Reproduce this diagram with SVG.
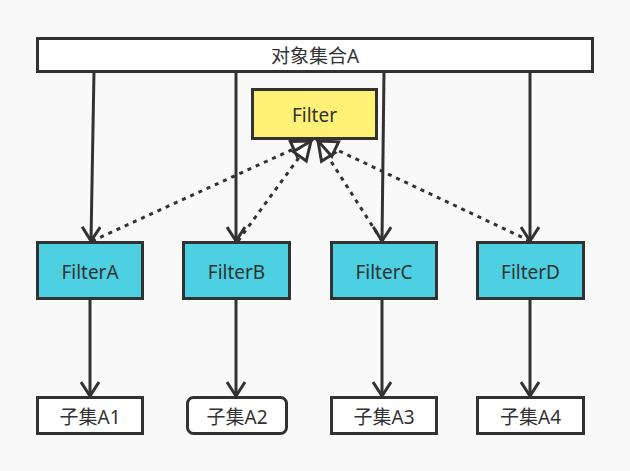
<svg xmlns="http://www.w3.org/2000/svg" width="630" height="471" viewBox="0 0 630 471">
<defs>
<style>
.box{stroke:#323232;stroke-width:3}
.t{font-family:"Noto Sans","Noto Sans CJK SC",sans-serif;font-size:19px;fill:#323232;text-anchor:middle;dominant-baseline:central}
.ln{stroke:#323232;stroke-width:3;fill:none}
.dash{stroke:#323232;stroke-width:3;fill:none;stroke-dasharray:4 5}
</style>
<marker id="open" viewBox="0 0 20 20" refX="17" refY="10" markerWidth="20" markerHeight="20" markerUnits="userSpaceOnUse" orient="auto">
<path d="M3,1 L17,10 L3,19" fill="none" stroke="#323232" stroke-width="3"/>
</marker>
<marker id="hollow" viewBox="0 0 24 22" refX="21" refY="11" markerWidth="24" markerHeight="22" markerUnits="userSpaceOnUse" orient="auto">
<path d="M2,3 L21,11 L2,19 Z" fill="#fff" stroke="#323232" stroke-width="3" stroke-linejoin="miter"/>
</marker>
</defs>
<rect width="630" height="471" fill="#f9f9f9"/>
<g id="connectors">
<line class="ln" x1="94" y1="71" x2="91" y2="241" marker-end="url(#open)"/>
<line class="ln" x1="236" y1="71" x2="236" y2="241" marker-end="url(#open)"/>
<line class="ln" x1="384" y1="71" x2="382" y2="241" marker-end="url(#open)"/>
<line class="ln" x1="530" y1="71" x2="530" y2="241" marker-end="url(#open)"/>
<line class="dash" x1="92" y1="241" x2="311" y2="141" marker-end="url(#hollow)"/>
<line class="dash" x1="238" y1="241" x2="311" y2="141" marker-end="url(#hollow)"/>
<line class="dash" x1="382" y1="241" x2="318" y2="141" marker-end="url(#hollow)"/>
<line class="dash" x1="530" y1="241" x2="318" y2="141" marker-end="url(#hollow)"/>
<line class="ln" x1="90" y1="298" x2="90" y2="396" marker-end="url(#open)"/>
<line class="ln" x1="236" y1="298" x2="236" y2="396" marker-end="url(#open)"/>
<line class="ln" x1="382" y1="298" x2="382" y2="396" marker-end="url(#open)"/>
<line class="ln" x1="530" y1="298" x2="530" y2="396" marker-end="url(#open)"/>
</g>
<g id="setA"><rect class="box" x="37.5" y="38.5" width="555" height="33" fill="#fff"/><text class="t" x="315" y="56">对象集合A</text></g>
<g id="filter"><rect class="box" x="252.5" y="89.5" width="124" height="49" fill="#fff176"/><text class="t" x="314.5" y="115">Filter</text></g>
<g id="filterA"><rect class="box" x="37.5" y="242.5" width="105" height="56" fill="#4dd0e1"/><text class="t" x="90" y="272">FilterA</text></g>
<g id="filterB"><rect class="box" x="183.5" y="242.5" width="106" height="56" fill="#4dd0e1"/><text class="t" x="236.5" y="272">FilterB</text></g>
<g id="filterC"><rect class="box" x="331.5" y="242.5" width="105" height="56" fill="#4dd0e1"/><text class="t" x="384" y="272">FilterC</text></g>
<g id="filterD"><rect class="box" x="477.5" y="242.5" width="106" height="56" fill="#4dd0e1"/><text class="t" x="530.5" y="272">FilterD</text></g>
<g id="subA1"><rect class="box" x="37.5" y="397.5" width="105" height="36" fill="#fff"/><text class="t" x="90" y="417">子集A1</text></g>
<g id="subA2"><rect class="box" x="187.5" y="397.5" width="99" height="36" rx="6" fill="#fff"/><text class="t" x="237" y="417">子集A2</text></g>
<g id="subA3"><rect class="box" x="331.5" y="397.5" width="105" height="36" fill="#fff"/><text class="t" x="384" y="417">子集A3</text></g>
<g id="subA4"><rect class="box" x="477.5" y="397.5" width="106" height="36" fill="#fff"/><text class="t" x="530.5" y="417">子集A4</text></g>
</svg>
